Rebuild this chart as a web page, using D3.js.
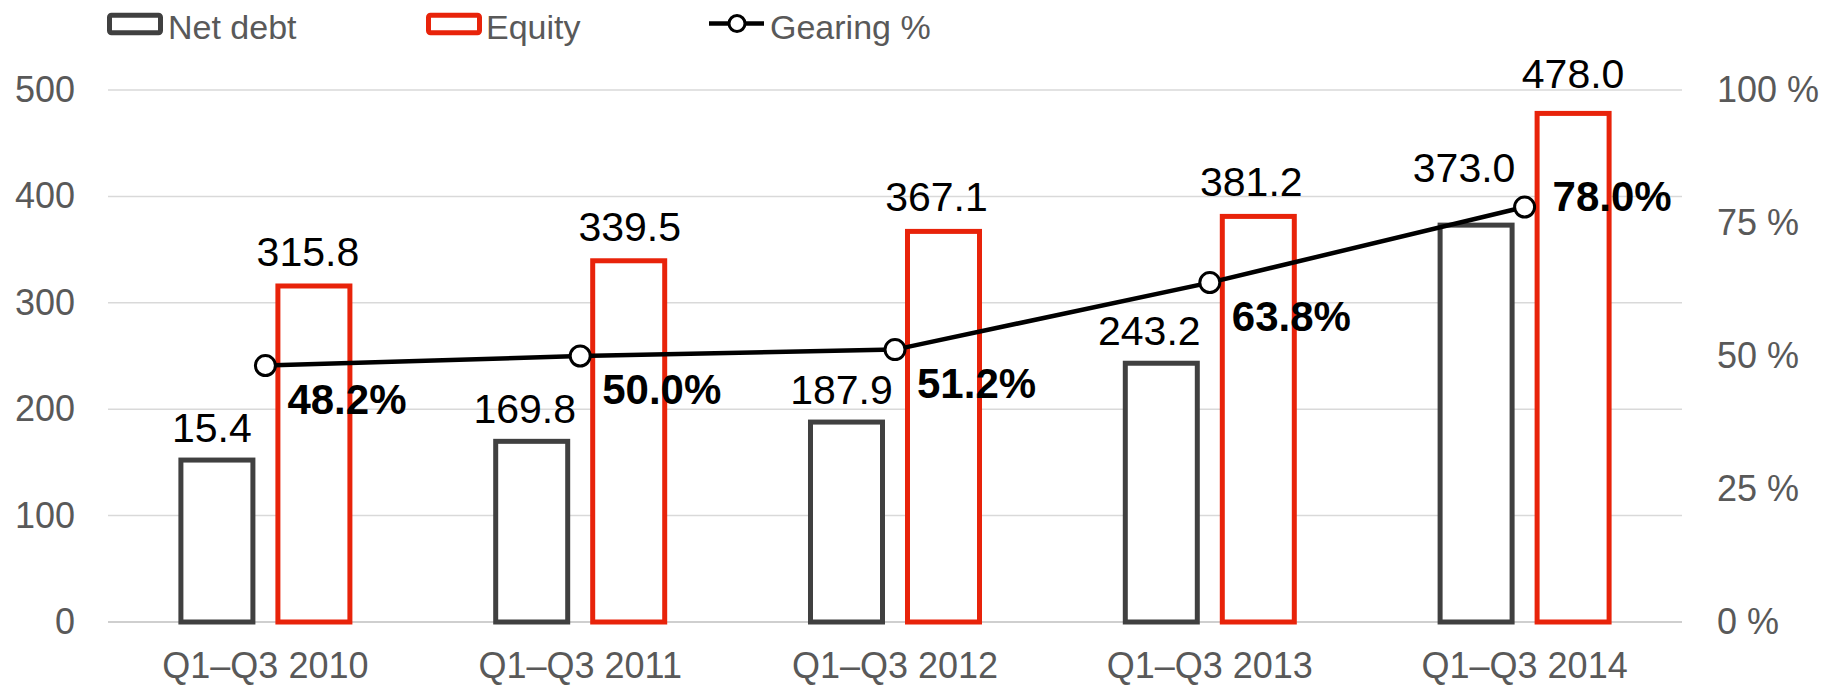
<!DOCTYPE html>
<html>
<head>
<meta charset="utf-8">
<script src="https://cdn.jsdelivr.net/npm/d3@7/dist/d3.min.js"></script>
<style>
  html, body { margin: 0; padding: 0; background: #fff; }
  svg { display: block; font-family: "Liberation Sans", Arial, sans-serif; }
</style>
</head>
<body>
<svg width="1821" height="687"></svg>
<script>
var categories = ["Q1\u2013Q3 2010", "Q1\u2013Q3 2011", "Q1\u2013Q3 2012", "Q1\u2013Q3 2013", "Q1\u2013Q3 2014"];
var netDebt = [152.2, 169.8, 187.9, 243.2, 373.0];
var netDebtLabels = ["15.4", "169.8", "187.9", "243.2", "373.0"];
var equity = [315.8, 339.5, 367.1, 381.2, 478.0];
var gearing = [48.2, 50.0, 51.2, 63.8, 78.0];
var leftTicks = [0, 100, 200, 300, 400, 500];
var rightTicks = [0, 25, 50, 75, 100];
var seriesNames = ["Net debt", "Equity", "Gearing %"];

var grey = "#595959",
    debtColor = "#404040",
    equityColor = "#e8230a";

// hand placed label nudges, as in the original
var debtNudgeX = [-5, -7, -5, -12, -12],
    equityNudgeX = [-6, 1, -7, -7, 0];

var svg = d3.select("svg");

var x = d3.scaleBand()
    .domain(categories)
    .range([108, 1682]);

// two bars per category, 77px outer width with a 20px gap
var x1 = d3.scaleBand()
    .domain(["netDebt", "equity"])
    .range([x.bandwidth() / 2 - 87, x.bandwidth() / 2 + 87])
    .paddingInner(20 / 97);

var y = d3.scaleLinear().domain([0, 500]).range([622, 90]);
var y2 = d3.scaleLinear().domain([0, 100]).range([622, 90]);

// gridlines
svg.append("g")
  .selectAll("line")
  .data(leftTicks)
  .enter().append("line")
    .attr("x1", 108)
    .attr("x2", 1682)
    .attr("y1", function(d) { return y(d); })
    .attr("y2", function(d) { return y(d); })
    .attr("stroke", function(d) { return d === 0 ? "#bfbfbf" : "#d9d9d9"; })
    .attr("stroke-width", 1.5);

// left axis
var leftAxis = svg.append("g")
    .attr("transform", "translate(75,0)")
    .call(d3.axisLeft(y).tickValues(leftTicks).tickSize(0).tickPadding(0));
leftAxis.select(".domain").remove();
leftAxis.selectAll("text")
    .attr("font-size", 36)
    .attr("font-family", "Liberation Sans, Arial, sans-serif")
    .attr("fill", grey);

// right axis
var rightAxis = svg.append("g")
    .attr("transform", "translate(1717,0)")
    .call(d3.axisRight(y2).tickValues(rightTicks).tickSize(0).tickPadding(0)
      .tickFormat(function(d) { return d + " %"; }));
rightAxis.select(".domain").remove();
rightAxis.selectAll("text")
    .attr("font-size", 36)
    .attr("font-family", "Liberation Sans, Arial, sans-serif")
    .attr("fill", grey);

// category labels
svg.append("g")
  .selectAll("text")
  .data(categories)
  .enter().append("text")
    .attr("x", function(d) { return x(d) + x.bandwidth() / 2; })
    .attr("y", 678)
    .attr("text-anchor", "middle")
    .attr("font-size", 36)
    .attr("fill", grey)
    .text(function(d) { return d; });

// bars
var groups = svg.append("g")
  .selectAll("g")
  .data(categories)
  .enter().append("g")
    .attr("transform", function(d) { return "translate(" + x(d) + ",0)"; });

groups.append("rect")
    .attr("x", x1("netDebt") + 2.5)
    .attr("width", x1.bandwidth() - 5)
    .attr("y", function(d, i) { return y(netDebt[i]); })
    .attr("height", function(d, i) { return y(0) - y(netDebt[i]); })
    .attr("fill", "#fff")
    .attr("stroke", debtColor)
    .attr("stroke-width", 5);

groups.append("rect")
    .attr("x", x1("equity") + 2.5)
    .attr("width", x1.bandwidth() - 5)
    .attr("y", function(d, i) { return y(equity[i]); })
    .attr("height", function(d, i) { return y(0) - y(equity[i]); })
    .attr("fill", "#fff")
    .attr("stroke", equityColor)
    .attr("stroke-width", 5);

groups.append("text")
    .attr("x", function(d, i) { return x1("netDebt") + x1.bandwidth() / 2 + debtNudgeX[i]; })
    .attr("y", function(d, i) { return y(netDebt[i]) - (i === 4 ? 43 : 18); })
    .attr("text-anchor", "middle")
    .attr("font-size", 41)
    .attr("fill", "#000")
    .text(function(d, i) { return netDebtLabels[i]; });

groups.append("text")
    .attr("x", function(d, i) { return x1("equity") + x1.bandwidth() / 2 + equityNudgeX[i]; })
    .attr("y", function(d, i) { return y(equity[i]) - (i === 4 ? 25 : 20); })
    .attr("text-anchor", "middle")
    .attr("font-size", 41)
    .attr("fill", "#000")
    .text(function(d, i) { return equity[i].toFixed(1); });

// gearing line
var cx = function(d, i) { return x(categories[i]) + x.bandwidth() / 2; };

svg.append("path")
    .datum(gearing)
    .attr("d", d3.line().x(cx).y(function(d) { return y2(d); }))
    .attr("fill", "none")
    .attr("stroke", "#000")
    .attr("stroke-width", 4.5);

svg.append("g")
  .selectAll("circle")
  .data(gearing)
  .enter().append("circle")
    .attr("cx", cx)
    .attr("cy", function(d) { return y2(d); })
    .attr("r", 10)
    .attr("fill", "#fff")
    .attr("stroke", "#000")
    .attr("stroke-width", 3);

svg.append("g")
  .selectAll("text")
  .data(gearing)
  .enter().append("text")
    .attr("x", function(d, i) { return cx(d, i) + (i === 4 ? 28 : 22); })
    .attr("y", function(d, i) { return y2(d) + (i === 4 ? 4 : 48); })
    .attr("font-size", 42)
    .attr("font-weight", "bold")
    .attr("fill", "#000")
    .text(function(d) { return d.toFixed(1) + "%"; });

// legend
var legend = svg.append("g");

legend.append("rect")
    .attr("x", 109.5).attr("y", 15.2).attr("width", 51).attr("height", 17.5).attr("rx", 2)
    .attr("fill", "#fff").attr("stroke", debtColor).attr("stroke-width", 5);
legend.append("rect")
    .attr("x", 428.5).attr("y", 15.2).attr("width", 51).attr("height", 17.5).attr("rx", 2)
    .attr("fill", "#fff").attr("stroke", equityColor).attr("stroke-width", 5);
legend.append("line")
    .attr("x1", 709).attr("x2", 764).attr("y1", 23.5).attr("y2", 23.5)
    .attr("stroke", "#000").attr("stroke-width", 4.5);
legend.append("circle")
    .attr("cx", 737).attr("cy", 23.5).attr("r", 8)
    .attr("fill", "#fff").attr("stroke", "#000").attr("stroke-width", 3);

legend.selectAll("text")
    .data(seriesNames)
  .enter().append("text")
    .attr("x", function(d, i) { return [168, 486, 770][i]; })
    .attr("y", 39)
    .attr("font-size", 34)
    .attr("fill", grey)
    .text(function(d) { return d; });
</script>
</body>
</html>
